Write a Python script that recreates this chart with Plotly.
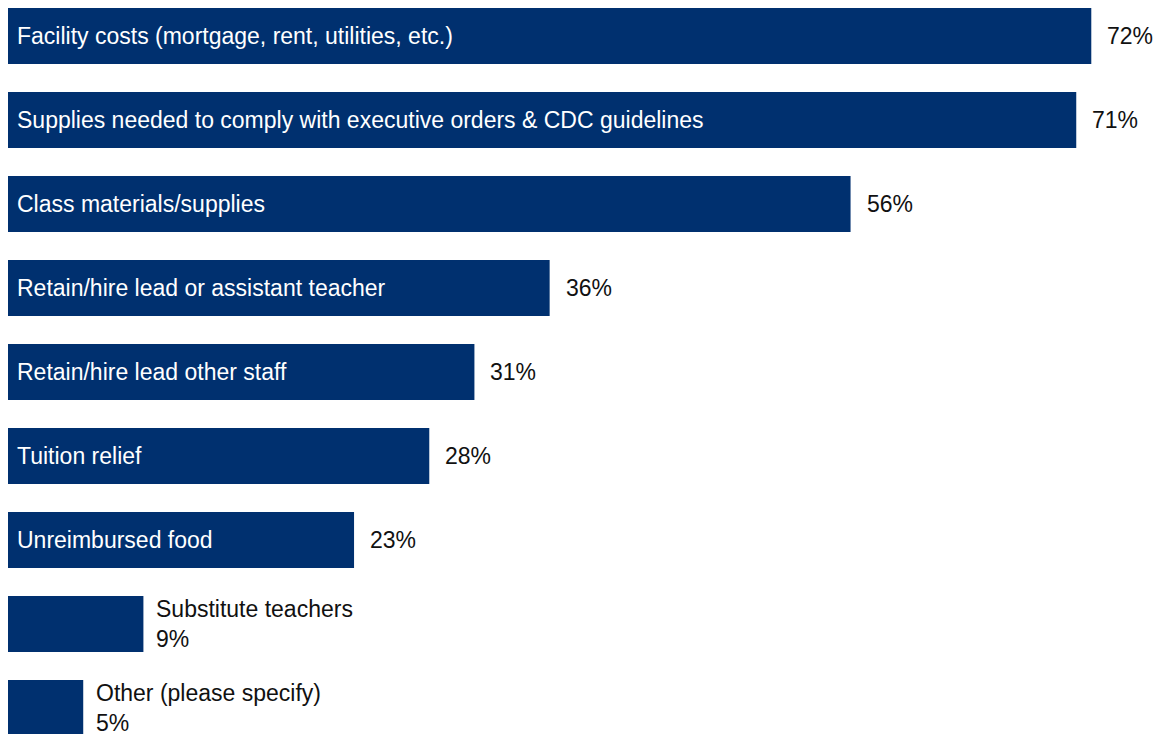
import plotly.graph_objects as go

categories = [
    "Facility costs (mortgage, rent, utilities, etc.)",
    "Supplies needed to comply with executive orders & CDC guidelines",
    "Class materials/supplies",
    "Retain/hire lead or assistant teacher",
    "Retain/hire lead other staff",
    "Tuition relief",
    "Unreimbursed food",
    "Substitute teachers",
    "Other (please specify)",
]
values = [72, 71, 56, 36, 31, 28, 23, 9, 5]
# categories whose name sits outside the bar (bar too short)
outside_names = {"Substitute teachers", "Other (please specify)"}

NAVY = "#00306F"
FONT = "Liberation Sans, Arial, sans-serif"
FS = 23

positions = list(range(len(categories)))

fig = go.Figure(
    go.Bar(
        x=values,
        y=positions,
        orientation="h",
        marker=dict(color=NAVY, line=dict(width=0)),
        width=0.667,
        hoverinfo="skip",
    )
)

annotations = []
for pos, name, val in zip(positions, categories, values):
    if name in outside_names:
        annotations.append(dict(
            x=val, y=pos, xref="x", yref="y",
            text=f"{name}<br>{val}%",
            showarrow=False, xanchor="left", yanchor="middle", align="left",
            xshift=11, font=dict(family=FONT, size=FS, color="#111111"),
        ))
    else:
        annotations.append(dict(
            x=0, y=pos, xref="x", yref="y",
            text=name, showarrow=False, xanchor="left", yanchor="middle",
            xshift=7, font=dict(family=FONT, size=FS, color="#ffffff"),
        ))
        annotations.append(dict(
            x=val, y=pos, xref="x", yref="y",
            text=f"{val}%", showarrow=False, xanchor="left", yanchor="middle",
            xshift=14, font=dict(family=FONT, size=FS, color="#111111"),
        ))

fig.update_layout(
    width=1159, height=734,
    margin=dict(l=8, r=0, t=0, b=0),
    paper_bgcolor="white", plot_bgcolor="white",
    showlegend=False,
    annotations=annotations,
    xaxis=dict(range=[0, 76.5], visible=False, fixedrange=True),
    yaxis=dict(range=[8.3095, -0.4286], visible=False, fixedrange=True),
)

fig.write_html("out.html")
